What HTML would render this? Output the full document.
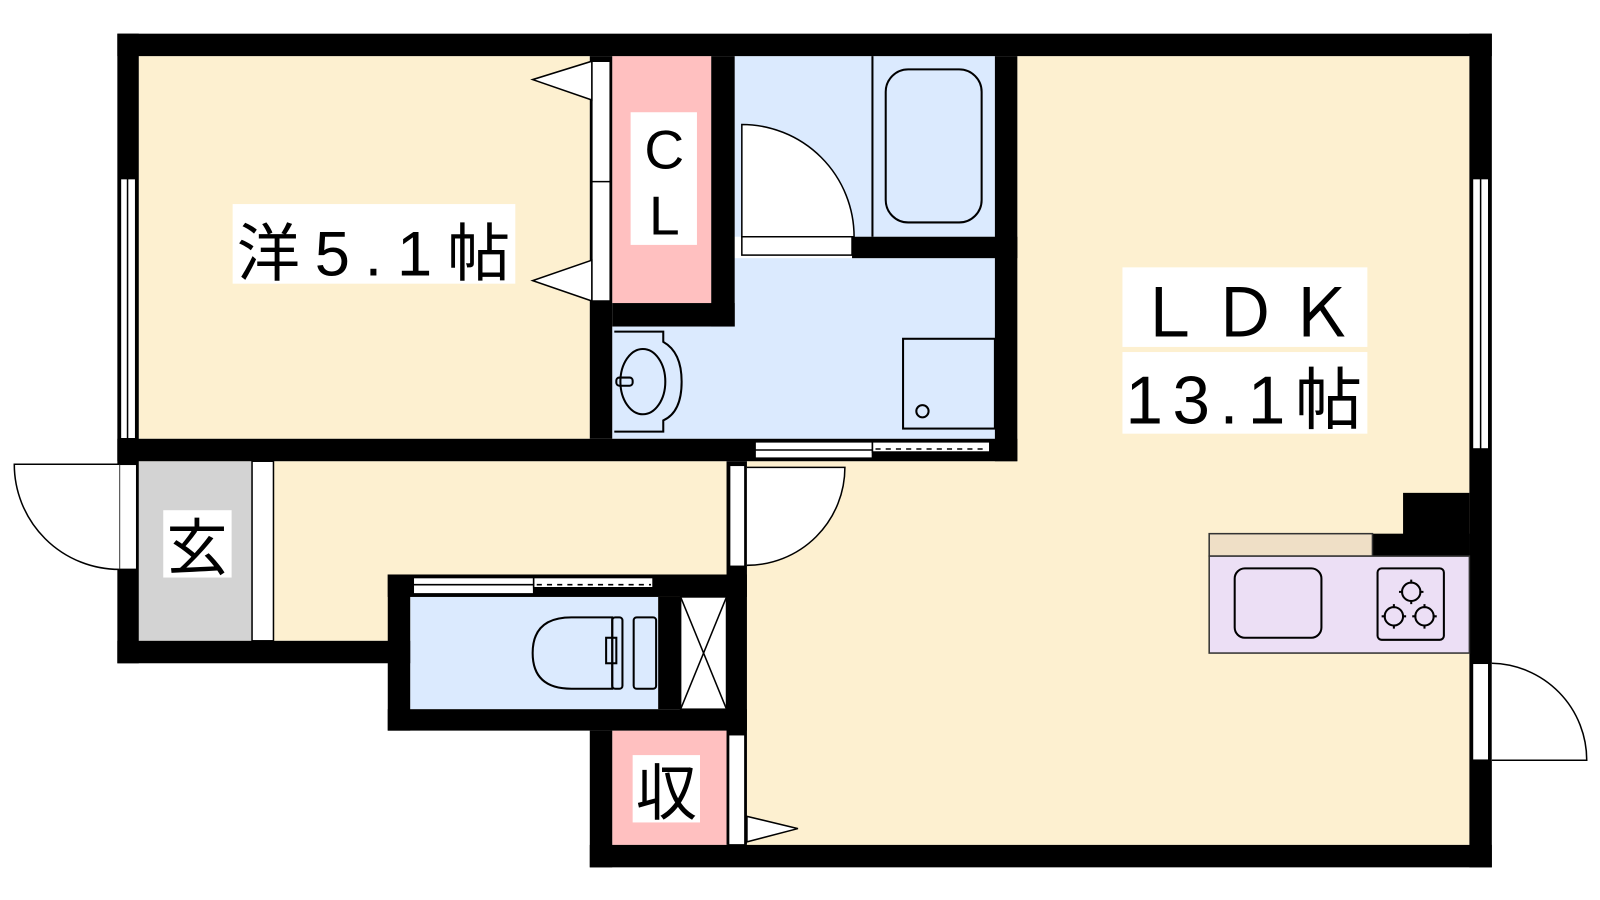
<!DOCTYPE html>
<html><head><meta charset="utf-8"><style>
html,body{margin:0;padding:0;background:#fff;width:1600px;height:900px;overflow:hidden}
svg text{font-family:"Liberation Sans","Noto Sans CJK JP",sans-serif;fill:#000}
</style></head><body>
<svg width="1600" height="900" viewBox="0 0 1568 882" preserveAspectRatio="none" xmlns="http://www.w3.org/2000/svg">
<!-- floors -->
<rect x="136" y="55" width="442" height="375" fill="#fdf0d0"/>
<rect x="136" y="452" width="576" height="176" fill="#fdf0d0"/>
<rect x="136" y="452" width="111" height="176" fill="#d3d3d3"/>
<rect x="247" y="452" width="21" height="176" fill="#fff" stroke="#000" stroke-width="1.5"/>
<rect x="997" y="55" width="443" height="773" fill="#fdf0d0"/>
<rect x="732" y="452" width="270" height="376" fill="#fdf0d0"/>
<rect x="600" y="55" width="97" height="242" fill="#ffc0c0"/>
<rect x="600" y="716" width="112" height="112" fill="#ffc0c0"/>
<rect x="720" y="55" width="255" height="177" fill="#dbeafe"/>
<rect x="720" y="253" width="255" height="177" fill="#dbeafe"/>
<rect x="600" y="320" width="375" height="110" fill="#dbeafe"/>
<rect x="402" y="585" width="243" height="110" fill="#dbeafe"/>
<rect x="667" y="585" width="45" height="110" fill="#fff"/>
<line x1="667" y1="585" x2="712" y2="695" stroke="#000" stroke-width="1.5"/>
<line x1="712" y1="585" x2="667" y2="695" stroke="#000" stroke-width="1.5"/>
<rect x="667" y="585" width="45" height="110" fill="none" stroke="#000" stroke-width="1.5"/>
<!-- walls -->
<g fill="#000">
<rect x="115" y="33" width="1347" height="22"/>
<rect x="115" y="33" width="21" height="617"/>
<rect x="1440" y="33" width="22" height="817"/>
<rect x="578" y="828" width="884" height="22"/>
<rect x="578" y="55" width="22" height="375"/>
<rect x="697" y="55" width="23" height="265"/>
<rect x="600" y="297" width="120" height="23"/>
<rect x="835" y="232" width="162" height="21"/>
<rect x="975" y="55" width="22" height="397"/>
<rect x="115" y="430" width="882" height="22"/>
<rect x="115" y="628" width="287" height="22"/>
<rect x="380" y="563" width="22" height="153"/>
<rect x="380" y="563" width="352" height="22"/>
<rect x="380" y="695" width="352" height="21"/>
<rect x="645" y="585" width="22" height="110"/>
<rect x="712" y="452" width="20" height="376"/>
<rect x="578" y="716" width="22" height="134"/>
<rect x="1375" y="483" width="65" height="62"/>
<rect x="1345" y="523" width="95" height="22"/>
</g>
<!-- windows / openings -->
<g fill="#fff" stroke="#000" stroke-width="1.5">
<rect x="118" y="175" width="15" height="255"/>
<line x1="125" y1="175" x2="125" y2="430"/>
<rect x="1443" y="175" width="16" height="265"/>
<line x1="1451" y1="175" x2="1451" y2="440"/>
<rect x="117" y="455" width="17" height="103"/>
<rect x="580" y="60" width="18" height="235"/>
<line x1="580" y1="178" x2="598" y2="178"/>
<rect x="740" y="433" width="115" height="16"/>
<line x1="740" y1="441" x2="855" y2="441"/>
<rect x="855" y="433" width="115" height="10"/>
<rect x="405" y="566" width="118" height="16"/>
<line x1="405" y1="573" x2="523" y2="573"/>
<rect x="523" y="566" width="117" height="10"/>
<rect x="715" y="456" width="15" height="99"/>
<rect x="714" y="720" width="16" height="108"/>
<rect x="1443" y="650" width="16" height="95"/>
<rect x="727" y="232" width="108" height="18"/>
</g>
<g fill="none" stroke="#000" stroke-width="1.5" stroke-dasharray="5,5">
<line x1="858" y1="440" x2="968" y2="440"/>
<line x1="526" y1="573" x2="638" y2="573"/>
</g>
<!-- doors -->
<g fill="#fff" stroke="#000" stroke-width="1.5">
<path d="M117,455 L14,455 A103,103 0 0 0 117,558"/>
<path d="M732,458 L828,458 A96,96 0 0 1 732,554"/>
<path d="M1462,745 L1555,745 A95,95 0 0 0 1462,650"/>
<path d="M727,232 L727,122 A110,110 0 0 1 837,232 Z"/>
<path d="M580,98 L522,78 L580,60 Z"/>
<path d="M580,295 L522,275 L580,255 Z"/>
<path d="M732,825 L782,812 L732,800 Z"/>
</g>
<!-- fixtures -->
<g fill="none" stroke="#000" stroke-width="2">
<line x1="855" y1="55" x2="855" y2="232"/>
<rect x="868" y="68" width="94" height="150" rx="22"/>
<path d="M602,325 H650 V335 Q668,345 668,374 Q668,404 650,412 V423 H602"/>
<ellipse cx="630" cy="374" rx="22" ry="32"/>
<rect x="604" y="370" width="16" height="8" rx="3"/>
<rect x="885" y="332" width="90" height="88"/>
<circle cx="904" cy="403" r="6"/>
<path d="M600,605 H560 Q522,605 522,640 Q522,675 560,675 H600 Z"/>
<rect x="600" y="605" width="10" height="70" rx="3"/>
<rect x="594" y="625" width="10" height="25"/>
<rect x="621" y="605" width="22" height="70" rx="3"/>
</g>
<rect x="1185" y="523" width="160" height="22" fill="#efdfc6" stroke="#333" stroke-width="1.5"/>
<rect x="1185" y="545" width="255" height="95" fill="#ecdff5" stroke="#333" stroke-width="1.5"/>
<g fill="none" stroke="#000" stroke-width="2">
<rect x="1210" y="557" width="85" height="68" rx="10"/>
<rect x="1350" y="557" width="65" height="70" rx="4"/>
<circle cx="1383" cy="580" r="9"/>
<circle cx="1396" cy="604" r="9"/>
<circle cx="1366" cy="604" r="9"/>
<path d="M1383,568v4M1383,588v4M1371,580h4M1391,580h4M1396,592v4M1396,612v4M1384,604h4M1404,604h4M1366,592v4M1366,612v4M1354,604h4M1374,604h4"/>
</g>
<!-- labels -->
<rect x="228" y="200" width="277" height="78" fill="#fff"/>
<text x="232" y="270" font-size="62" textLength="268" lengthAdjust="spacing">洋5.1帖</text>
<rect x="618" y="110" width="65" height="130" fill="#fff"/>
<text x="651" y="165" font-size="54" text-anchor="middle">C</text>
<text x="651" y="230" font-size="54" text-anchor="middle">L</text>
<rect x="160" y="500" width="67" height="66" fill="#fff"/>
<text x="193" y="558" font-size="60" text-anchor="middle">玄</text>
<rect x="620" y="740" width="66" height="66" fill="#fff"/>
<text x="653" y="798" font-size="60" text-anchor="middle">収</text>
<rect x="1100" y="262" width="240" height="78" fill="#fff"/>
<text x="1220" y="330" font-size="66" text-anchor="middle" textLength="215">ＬＤＫ</text>
<rect x="1100" y="345" width="240" height="80" fill="#fff"/>
<text x="1103" y="415" font-size="66" textLength="232">13.1帖</text>
</svg>
</body></html>
